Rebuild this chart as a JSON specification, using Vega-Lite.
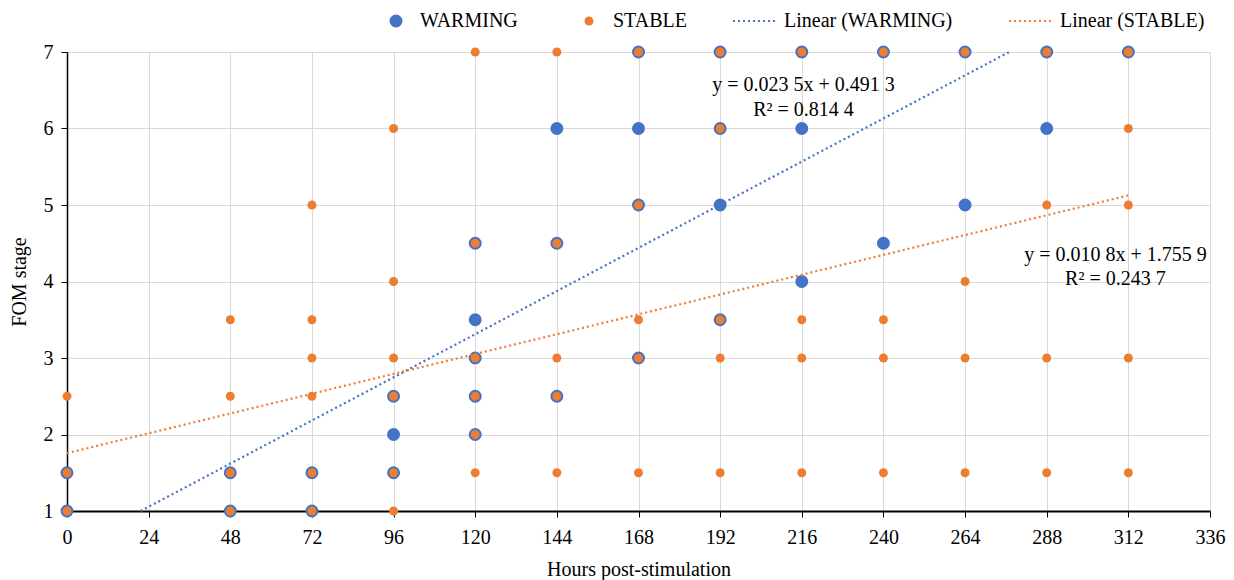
{
  "$schema": "https://vega.github.io/schema/vega-lite/v6.json",
  "width": 1143,
  "height": 459,
  "autosize": {"type": "none"},
  "padding": {"left": 67, "top": 52, "right": 24, "bottom": 69},
  "background": "white",
  "config": {
    "view": {"stroke": null},
    "font": "Liberation Serif",
    "axis": {
      "labelFont": "Liberation Serif",
      "titleFont": "Liberation Serif",
      "labelColor": "#000000",
      "titleColor": "#000000",
      "labelFontSize": 20,
      "titleFontSize": 20,
      "titleFontWeight": "normal",
      "gridColor": "#d9d9d9",
      "gridWidth": 1,
      "tickColor": "#000000",
      "domainColor": "#000000",
      "tickSize": 6,
      "labelFlush": false
    },
    "legend": {
      "labelFont": "Liberation Serif",
      "labelFontSize": 20,
      "labelColor": "#000000",
      "labelLimit": 400
    }
  },
  "datasets": {
    "pts": [
      {"hours": 0, "stage": 1, "group": "WARMING"},
      {"hours": 0, "stage": 1.5, "group": "WARMING"},
      {"hours": 48, "stage": 1, "group": "WARMING"},
      {"hours": 48, "stage": 1.5, "group": "WARMING"},
      {"hours": 72, "stage": 1, "group": "WARMING"},
      {"hours": 72, "stage": 1.5, "group": "WARMING"},
      {"hours": 96, "stage": 1.5, "group": "WARMING"},
      {"hours": 96, "stage": 2, "group": "WARMING"},
      {"hours": 96, "stage": 2.5, "group": "WARMING"},
      {"hours": 120, "stage": 2, "group": "WARMING"},
      {"hours": 120, "stage": 2.5, "group": "WARMING"},
      {"hours": 120, "stage": 3, "group": "WARMING"},
      {"hours": 120, "stage": 3.5, "group": "WARMING"},
      {"hours": 120, "stage": 4.5, "group": "WARMING"},
      {"hours": 144, "stage": 2.5, "group": "WARMING"},
      {"hours": 144, "stage": 4.5, "group": "WARMING"},
      {"hours": 144, "stage": 6, "group": "WARMING"},
      {"hours": 168, "stage": 3, "group": "WARMING"},
      {"hours": 168, "stage": 5, "group": "WARMING"},
      {"hours": 168, "stage": 6, "group": "WARMING"},
      {"hours": 168, "stage": 7, "group": "WARMING"},
      {"hours": 192, "stage": 3.5, "group": "WARMING"},
      {"hours": 192, "stage": 5, "group": "WARMING"},
      {"hours": 192, "stage": 6, "group": "WARMING"},
      {"hours": 192, "stage": 7, "group": "WARMING"},
      {"hours": 216, "stage": 4, "group": "WARMING"},
      {"hours": 216, "stage": 6, "group": "WARMING"},
      {"hours": 216, "stage": 7, "group": "WARMING"},
      {"hours": 240, "stage": 4.5, "group": "WARMING"},
      {"hours": 240, "stage": 7, "group": "WARMING"},
      {"hours": 264, "stage": 5, "group": "WARMING"},
      {"hours": 264, "stage": 7, "group": "WARMING"},
      {"hours": 288, "stage": 6, "group": "WARMING"},
      {"hours": 288, "stage": 7, "group": "WARMING"},
      {"hours": 312, "stage": 7, "group": "WARMING"},
      {"hours": 0, "stage": 1, "group": "STABLE"},
      {"hours": 0, "stage": 1.5, "group": "STABLE"},
      {"hours": 0, "stage": 2.5, "group": "STABLE"},
      {"hours": 48, "stage": 1, "group": "STABLE"},
      {"hours": 48, "stage": 1.5, "group": "STABLE"},
      {"hours": 48, "stage": 2.5, "group": "STABLE"},
      {"hours": 48, "stage": 3.5, "group": "STABLE"},
      {"hours": 72, "stage": 1, "group": "STABLE"},
      {"hours": 72, "stage": 1.5, "group": "STABLE"},
      {"hours": 72, "stage": 2.5, "group": "STABLE"},
      {"hours": 72, "stage": 3, "group": "STABLE"},
      {"hours": 72, "stage": 3.5, "group": "STABLE"},
      {"hours": 72, "stage": 5, "group": "STABLE"},
      {"hours": 96, "stage": 1, "group": "STABLE"},
      {"hours": 96, "stage": 1.5, "group": "STABLE"},
      {"hours": 96, "stage": 2.5, "group": "STABLE"},
      {"hours": 96, "stage": 3, "group": "STABLE"},
      {"hours": 96, "stage": 4, "group": "STABLE"},
      {"hours": 96, "stage": 6, "group": "STABLE"},
      {"hours": 120, "stage": 1.5, "group": "STABLE"},
      {"hours": 120, "stage": 2, "group": "STABLE"},
      {"hours": 120, "stage": 2.5, "group": "STABLE"},
      {"hours": 120, "stage": 3, "group": "STABLE"},
      {"hours": 120, "stage": 4.5, "group": "STABLE"},
      {"hours": 120, "stage": 7, "group": "STABLE"},
      {"hours": 144, "stage": 1.5, "group": "STABLE"},
      {"hours": 144, "stage": 2.5, "group": "STABLE"},
      {"hours": 144, "stage": 3, "group": "STABLE"},
      {"hours": 144, "stage": 4.5, "group": "STABLE"},
      {"hours": 144, "stage": 7, "group": "STABLE"},
      {"hours": 168, "stage": 1.5, "group": "STABLE"},
      {"hours": 168, "stage": 3, "group": "STABLE"},
      {"hours": 168, "stage": 3.5, "group": "STABLE"},
      {"hours": 168, "stage": 5, "group": "STABLE"},
      {"hours": 168, "stage": 7, "group": "STABLE"},
      {"hours": 192, "stage": 1.5, "group": "STABLE"},
      {"hours": 192, "stage": 3, "group": "STABLE"},
      {"hours": 192, "stage": 3.5, "group": "STABLE"},
      {"hours": 192, "stage": 6, "group": "STABLE"},
      {"hours": 192, "stage": 7, "group": "STABLE"},
      {"hours": 216, "stage": 1.5, "group": "STABLE"},
      {"hours": 216, "stage": 3, "group": "STABLE"},
      {"hours": 216, "stage": 3.5, "group": "STABLE"},
      {"hours": 216, "stage": 7, "group": "STABLE"},
      {"hours": 240, "stage": 1.5, "group": "STABLE"},
      {"hours": 240, "stage": 3, "group": "STABLE"},
      {"hours": 240, "stage": 3.5, "group": "STABLE"},
      {"hours": 240, "stage": 7, "group": "STABLE"},
      {"hours": 264, "stage": 1.5, "group": "STABLE"},
      {"hours": 264, "stage": 3, "group": "STABLE"},
      {"hours": 264, "stage": 4, "group": "STABLE"},
      {"hours": 264, "stage": 7, "group": "STABLE"},
      {"hours": 288, "stage": 1.5, "group": "STABLE"},
      {"hours": 288, "stage": 3, "group": "STABLE"},
      {"hours": 288, "stage": 5, "group": "STABLE"},
      {"hours": 288, "stage": 7, "group": "STABLE"},
      {"hours": 312, "stage": 1.5, "group": "STABLE"},
      {"hours": 312, "stage": 3, "group": "STABLE"},
      {"hours": 312, "stage": 5, "group": "STABLE"},
      {"hours": 312, "stage": 6, "group": "STABLE"},
      {"hours": 312, "stage": 7, "group": "STABLE"}
    ],
    "trend": [
      {"hours": 21.65, "stage": 1, "trend": "Linear (WARMING)"},
      {"hours": 276.97, "stage": 7, "trend": "Linear (WARMING)"},
      {"hours": 0, "stage": 1.7559, "trend": "Linear (STABLE)"},
      {"hours": 312, "stage": 5.1255, "trend": "Linear (STABLE)"}
    ],
    "notes": [
      {"hours": 216.5, "stage": 6.57, "label": "y = 0.023 5x + 0.491 3"},
      {"hours": 216.5, "stage": 6.24, "label": "R² = 0.814 4"},
      {"hours": 308.2, "stage": 4.35, "label": "y = 0.010 8x + 1.755 9"},
      {"hours": 308.2, "stage": 4.03, "label": "R² = 0.243 7"}
    ]
  },
  "encoding": {
    "x": {
      "field": "hours",
      "type": "quantitative",
      "scale": {"domain": [0, 336], "nice": false, "zero": false},
      "axis": {
        "title": "Hours post-stimulation",
        "values": [0, 24, 48, 72, 96, 120, 144, 168, 192, 216, 240, 264, 288, 312, 336],
        "domainWidth": 2,
        "labelPadding": 10,
        "titlePadding": 12,
        "labelFlush": false
      }
    },
    "y": {
      "field": "stage",
      "type": "quantitative",
      "scale": {"domain": [1, 7], "nice": false, "zero": false},
      "axis": {
        "title": "FOM stage",
        "values": [1, 2, 3, 4, 5, 6, 7],
        "domainWidth": 1.5,
        "labelPadding": 8,
        "titlePadding": 14,
        "labelFlush": false
      }
    }
  },
  "layer": [
    {
      "data": {"name": "pts"},
      "mark": {"type": "point", "shape": "circle", "filled": true, "opacity": 1},
      "encoding": {
        "fill": {
          "field": "group",
          "type": "nominal",
          "scale": {"domain": ["WARMING", "STABLE"], "range": ["#4472C4", "#ED7D31"]},
          "legend": {
            "title": null,
            "orient": "none",
            "direction": "horizontal",
            "legendX": 319,
            "legendY": -41,
            "labelOffset": 14,
            "columnPadding": 61,
            "symbolStrokeWidth": 0
          }
        },
        "size": {
          "field": "group",
          "type": "nominal",
          "scale": {"domain": ["WARMING", "STABLE"], "range": [168, 80]}
        },
        "order": {"field": "group", "sort": "descending"}
      }
    },
    {
      "data": {"name": "trend"},
      "mark": {"type": "line", "strokeDash": [2, 3], "strokeWidth": 2.2},
      "encoding": {
        "stroke": {
          "field": "trend",
          "type": "nominal",
          "scale": {"domain": ["Linear (WARMING)", "Linear (STABLE)"], "range": ["#4472C4", "#ED7D31"]},
          "legend": {
            "title": null,
            "orient": "none",
            "direction": "horizontal",
            "legendX": 665,
            "legendY": -54,
            "symbolType": "stroke",
            "symbolSize": 1936,
            "symbolStrokeWidth": 2,
            "symbolDash": [2, 3],
            "labelOffset": 6,
            "columnPadding": 52
          }
        }
      }
    },
    {
      "data": {"name": "notes"},
      "mark": {"type": "text", "font": "Liberation Serif", "fontSize": 20, "align": "center", "baseline": "middle", "color": "#000000"},
      "encoding": {
        "text": {"field": "label", "type": "nominal"}
      }
    }
  ]
}
